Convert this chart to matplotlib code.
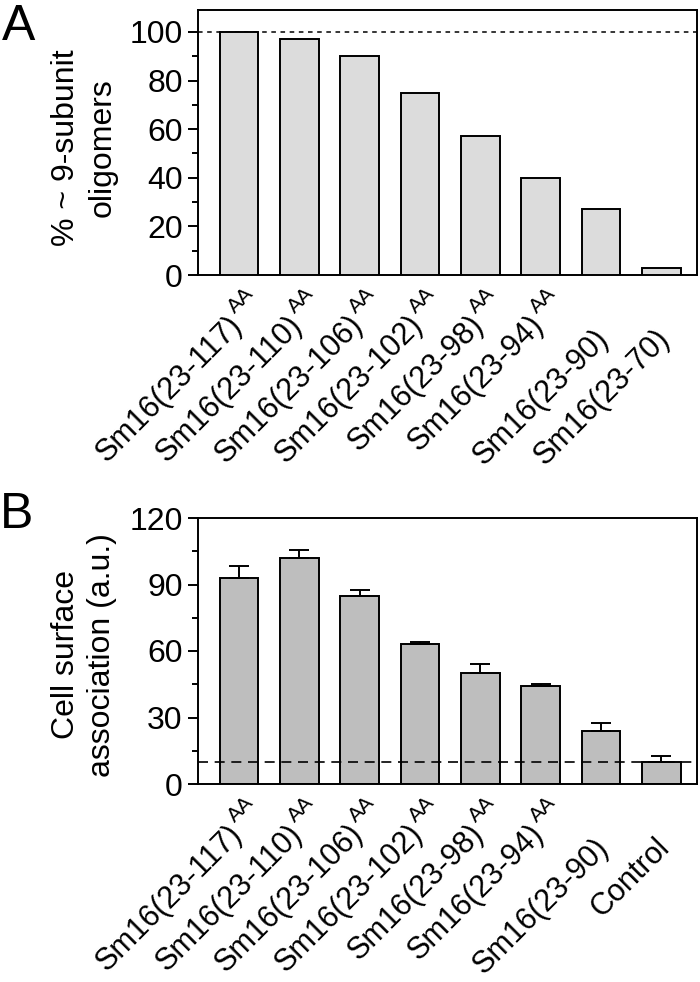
import matplotlib
matplotlib.use("Agg")
import matplotlib.pyplot as plt
import numpy as np
from matplotlib.ticker import MultipleLocator
from matplotlib.transforms import ScaledTranslation, blended_transform_factory

plt.rcParams['font.family'] = ['Liberation Sans', 'DejaVu Sans']

# Panel A data
names_a = ['Sm16(23-117)', 'Sm16(23-110)', 'Sm16(23-106)', 'Sm16(23-102)',
           'Sm16(23-98)', 'Sm16(23-94)', 'Sm16(23-90)', 'Sm16(23-70)']
sups_a = ['AA', 'AA', 'AA', 'AA', 'AA', 'AA', '', '']
values_a = [100, 97, 90, 75, 57, 40, 27, 3]
ref_a = 100

# Panel B data
names_b = ['Sm16(23-117)', 'Sm16(23-110)', 'Sm16(23-106)', 'Sm16(23-102)',
           'Sm16(23-98)', 'Sm16(23-94)', 'Sm16(23-90)', 'Control']
sups_b = ['AA', 'AA', 'AA', 'AA', 'AA', 'AA', '', '']
values_b = [93, 102, 85, 63, 50, 44, 24, 10]
errors_b = [5.5, 3.7, 2.6, 1.2, 4.3, 1.3, 3.6, 2.7]
ref_b = 10

W, H = 700, 982
DPI = 100
fig = plt.figure(figsize=(W / DPI, H / DPI), dpi=DPI)

def frac(l, t, r, b):
    return [l / W, 1 - b / H, (r - l) / W, (b - t) / H]

axA = fig.add_axes(frac(198, 10, 697, 275))
axB = fig.add_axes(frac(198, 518, 697, 784))

lw = 1.4
tick_fs = 23
lab_fs = 23
xt_fs = 22
sup_fs = 15

def style(ax):
    for s in ax.spines.values():
        s.set_linewidth(lw)
    ax.tick_params(axis='y', which='major', direction='out', length=7, width=lw,
                   labelsize=tick_fs, pad=4)
    ax.tick_params(axis='y', which='minor', direction='out', length=4, width=lw)
    ax.tick_params(axis='x', which='both', length=0, labelbottom=False)

def px(dx, dy):
    # screen-pixel offset (dy positive = downwards)
    return ScaledTranslation(dx / DPI, -dy / DPI, fig.dpi_scale_trans)

def cat_labels(ax, names, sups):
    tr = blended_transform_factory(ax.transData, ax.transAxes)
    for i, (nm, sp) in enumerate(zip(names, sups)):
        ex, ey = (4, 51) if sp else (9, 65)
        ax.text(i, 0, nm, transform=tr + px(ex, ey), rotation=45,
                rotation_mode='anchor', ha='right', va='baseline',
                fontsize=xt_fs, clip_on=False)
        if sp:
            ax.text(i, 0, sp, transform=tr + px(ex - 8, ey - 12), rotation=45,
                    rotation_mode='anchor', ha='left', va='baseline',
                    fontsize=sup_fs, clip_on=False)

x = np.arange(len(values_a))
axA.bar(x, values_a, width=0.64, color='#dcdcdc', edgecolor='black', linewidth=lw, zorder=3)
axA.axhline(ref_a, color='black', linestyle=(0, (3, 3)), linewidth=1.1, zorder=2)
axA.set_xlim(-0.68, 7.59)
axA.set_ylim(0, 109)
axA.yaxis.set_major_locator(MultipleLocator(20))
axA.yaxis.set_minor_locator(MultipleLocator(10))
style(axA)
axA.set_xticks(x)
cat_labels(axA, names_a, sups_a)
axA.set_ylabel('% ~ 9-subunit\noligomers', fontsize=lab_fs, multialignment='center',
               linespacing=1.25)
axA.yaxis.set_label_coords(-0.162, 0.48)

xb = np.arange(len(values_b))
axB.bar(xb, values_b, width=0.64, color='#bebebe', edgecolor='black', linewidth=lw, zorder=2)
axB.errorbar(xb, values_b, yerr=[np.zeros(len(errors_b)), errors_b], fmt='none',
             ecolor='black', elinewidth=lw, capsize=7, capthick=lw, zorder=3)
axB.axhline(ref_b, color='black', linestyle=(0, (6, 4)), linewidth=1.2, zorder=4)
axB.set_xlim(-0.68, 7.59)
axB.set_ylim(0, 120)
axB.yaxis.set_major_locator(MultipleLocator(30))
axB.yaxis.set_minor_locator(MultipleLocator(15))
style(axB)
axB.set_xticks(xb)
cat_labels(axB, names_b, sups_b)
axB.set_ylabel('Cell surface\nassociation (a.u.)', fontsize=lab_fs,
               multialignment='center', linespacing=1.25)
axB.yaxis.set_label_coords(-0.162, 0.485)

fig.text(2 / W, 1 - 4 / H, 'A', fontsize=36, ha='left', va='top')
fig.text(0 / W, 1 - 492 / H, 'B', fontsize=36, ha='left', va='top')

fig.savefig('out.png', dpi=DPI)
